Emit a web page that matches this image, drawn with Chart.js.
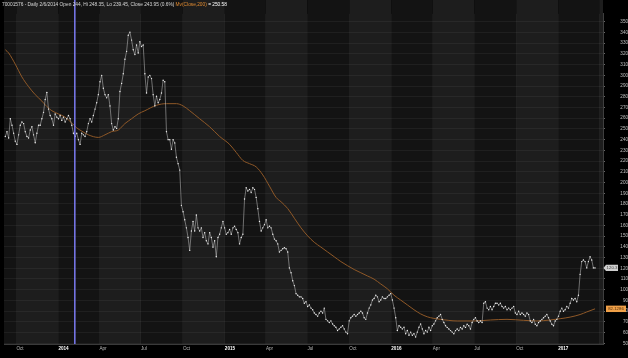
<!DOCTYPE html>
<html>
<head>
<meta charset="utf-8">
<script src="https://cdn.jsdelivr.net/npm/chart.js@4/dist/chart.umd.min.js"></script>
<style>
  html, body { margin: 0; padding: 0; background: #000; }
  #wrap { width: 628px; height: 358px; position: relative; }
</style>
</head>
<body>
<div id="wrap"><canvas id="c" width="628" height="358"></canvas></div>
<script>
// ---- data ----
const originDate = '2013-10-01';           // day 0 of the x axis
const sampleStartDay = -24.4;               // first sample (~2013-09-06)
const sampleStepDays = 3.643;               // spacing of samples in calendar days

const closeValues = [
  243.0,247.5,241.6,259.5,253.5,246.0,238.6,235.6,244.5,253.5,
  256.5,255.0,247.5,243.0,241.6,249.0,252.0,244.5,237.1,246.0,
  253.5,253.5,259.5,265.5,277.5,284.1,268.5,262.5,259.5,253.5,
  264.0,261.0,259.5,262.5,258.0,261.0,256.5,259.5,262.5,259.5,
  253.5,246.0,243.0,246.0,240.0,235.6,246.0,244.5,243.0,247.5,
  255.0,259.5,256.5,262.5,268.5,274.5,282.0,294.0,300.0,288.0,
  282.0,279.0,282.0,271.5,255.0,249.0,252.0,250.5,259.5,285.0,
  292.5,301.5,315.0,322.4,337.4,340.4,332.9,323.9,319.4,328.4,
  320.9,331.4,326.9,328.4,301.5,283.5,298.5,300.0,297.0,282.0,
  271.5,280.5,274.5,277.5,283.5,295.5,294.0,247.5,240.0,240.0,
  231.1,240.0,237.0,223.6,217.6,211.6,178.7,172.7,165.2,157.7,
  148.7,136.7,154.7,163.7,154.7,169.7,157.7,154.7,157.7,148.7,
  153.2,145.7,142.7,153.2,148.7,139.7,145.7,130.7,148.7,151.7,
  157.7,163.7,157.7,151.7,153.2,156.2,151.7,157.7,159.2,156.2,
  153.2,142.7,148.7,151.7,184.6,195.1,192.1,193.6,190.6,195.1,
  193.6,186.1,175.6,163.7,154.7,157.7,160.7,165.2,157.7,159.2,
  157.7,151.7,147.2,145.7,142.7,135.2,136.7,138.2,139.1,138.2,
  135.2,120.3,115.8,108.3,103.8,96.3,94.8,93.3,93.3,91.8,
  87.3,88.8,84.3,85.8,82.8,81.3,78.3,76.8,75.3,78.3,
  79.8,78.3,82.8,72.3,70.9,69.4,70.9,67.9,66.4,64.9,
  61.9,63.4,64.9,66.4,63.4,60.4,58.9,70.9,73.8,75.3,
  76.8,75.3,76.8,78.3,79.8,78.3,73.8,72.3,78.3,82.8,
  85.8,90.3,91.8,94.8,93.3,88.8,90.3,93.3,91.8,91.8,
  93.3,94.8,96.3,90.3,82.8,73.8,61.9,66.4,64.9,63.4,
  64.9,58.9,61.9,57.4,60.4,57.4,58.9,55.9,60.4,64.9,
  67.9,63.4,58.9,61.9,60.4,64.9,61.9,66.4,67.9,70.9,
  73.8,75.3,76.8,72.3,69.3,66.3,64.8,63.3,61.8,60.4,
  58.9,61.8,63.3,61.8,64.8,63.3,66.3,64.8,67.8,66.3,
  63.3,69.3,72.3,73.8,70.8,69.3,70.8,69.3,87.3,88.8,
  82.8,81.3,84.3,81.3,84.3,87.3,87.3,85.8,87.3,84.3,
  82.8,84.3,81.3,82.8,81.3,82.8,84.3,78.3,76.8,79.8,
  76.8,78.3,76.8,75.3,78.3,76.8,70.8,69.3,72.3,67.8,
  66.3,69.3,70.8,72.3,73.8,75.3,76.8,73.8,70.8,67.8,
  66.3,70.8,72.3,75.3,79.8,82.8,79.8,81.3,84.3,82.8,
  87.3,91.8,90.3,91.8,88.8,94.8,114.3,126.2,127.7,126.2,
  120.3,126.2,130.7,127.7,120.3,120.3
];

// 200-day moving average, read at some of the sample positions
const maSampleIndex = [0,2,6,10,14,18,22,25,28,32,36,40,43,46,50,56,60,64,68,72,76,80,84,
  91,97,103,107,111,117,123,129,135,139,143,147,151,155,159,163,166,170,174,178,182,186,
  190,194,198,202,206,210,214,218,222,226,230,234,238,242,246,250,254,258,262,272,282,
  292,302,312,320,328,334,340,346,350,355];
const maValues = [323.9,320.9,310.4,298.5,289.5,282.0,276.0,270.9,267.0,264.0,261.0,255.5,251.0,248.0,244.5,242.1,244.5,247.5,249.0,255.0,259.5,264.0,267.0,
  272.1,273.6,273.6,271.5,267.0,259.5,252.0,243.0,235.6,228.1,220.6,217.6,214.6,207.1,196.6,186.1,182.0,175.7,166.7,157.7,150.2,144.2,
  139.7,135.2,130.7,126.2,122.4,118.8,115.8,112.8,109.8,105.3,100.8,94.8,90.3,85.8,81.3,77.4,74.7,73.2,72.3,70.8,70.8,
  71.7,72.3,71.4,70.8,71.7,72.9,74.4,76.8,79.2,82.13];

const tickDates  = ['2013-10-01','2014-01-01','2014-04-01','2014-07-01','2014-10-01','2015-01-01','2015-04-01',
                    '2015-07-01','2015-10-01','2016-01-01','2016-04-01','2016-07-01','2016-10-01','2017-01-01','2017-04-01'];
const tickLabels = ['Oct','2014','Apr','Jul','Oct','2015','Apr','Jul','Oct','2016','Apr','Jul','Oct','2017',''];
const yTickValues = [50,60,70,80,90,100,110,120,130,140,150,160,170,180,190,200,210,220,230,240,250,260,270,280,290,300,310,320,330,340,350];

const cursorDate = '2014-02-06';
const headerMain = '70001576 - Daily 2/6/2014 Open 244, Hi 248.35, Lo 239.45, Close 243.95 (0.6%) ';
const headerMa = 'Mv(Close,200)';
const headerMaVal = ' = 250.58';
const lastClose = 120.3;
const lastCloseText = '120.3';
const lastMa = 82.1286;
const lastMaText = '82.1286';

// ---- helpers ----
function dayOf(s) {
  const [y,m,d] = s.split('-').map(Number);
  const [oy,om,od] = originDate.split('-').map(Number);
  return (Date.UTC(y,m-1,d) - Date.UTC(oy,om-1,od)) / 86400000;
}
const tickDays = tickDates.map(dayOf);
const xMinDay = -27.3, xMaxDay = 1286.3;

const priceData = closeValues.map((v,i) => ({x: sampleStartDay + i*sampleStepDays, y: v}));
const maData = maSampleIndex.map((k,j) => ({x: sampleStartDay + k*sampleStepDays, y: maValues[j]}));

const FONT = '"Liberation Sans", Arial, sans-serif';

const bandsPlugin = {
  id: 'bands',
  beforeDraw(chart) {
    const {ctx, chartArea: a, scales: {x}} = chart;
    ctx.save();
    ctx.fillStyle = '#000';
    ctx.fillRect(0, 0, chart.width, chart.height);
    const edges = [xMinDay].concat(tickDays.filter(d => d > xMinDay && d < xMaxDay)).concat([xMaxDay]);
    for (let i = 0; i < edges.length - 1; i++) {
      const startD = edges[i];
      let light = false;
      const idx = tickDays.indexOf(startD);
      if (idx >= 0) {
        const m = Number(tickDates[idx].split('-')[1]);
        light = (m === 10 || m === 4);
      }
      const x0 = x.getPixelForValue(startD), x1 = x.getPixelForValue(edges[i+1]);
      ctx.fillStyle = light ? '#1d1d1d' : '#131313';
      ctx.fillRect(x0, 0, x1 - x0, a.bottom);
    }
    ctx.restore();
  },
  afterDraw(chart) {
    const {ctx, chartArea: a, scales: {x, y}} = chart;
    ctx.save();
    // cursor line
    const cx = x.getPixelForValue(dayOf(cursorDate));
    ctx.strokeStyle = '#7b7bf2';
    ctx.lineWidth = 1.5;
    ctx.beginPath(); ctx.moveTo(cx, 0); ctx.lineTo(cx, a.bottom); ctx.stroke();
    // header
    ctx.font = '4.8px ' + FONT;
    ctx.textBaseline = 'middle';
    ctx.textAlign = 'left';
    let tx = 2;
    ctx.fillStyle = '#d8d8d8';
    ctx.fillText(headerMain, tx, 5); tx += ctx.measureText(headerMain).width;
    ctx.fillStyle = '#e08a30';
    ctx.fillText(headerMa, tx, 5); tx += ctx.measureText(headerMa).width;
    ctx.fillStyle = '#ffffff';
    ctx.fillText(headerMaVal, tx, 5);
    // last close box
    const py = y.getPixelForValue(lastClose);
    ctx.fillStyle = '#cfcfcf';
    ctx.beginPath();
    ctx.moveTo(a.right + 0.5, py);
    ctx.lineTo(a.right + 3, py - 3.2);
    ctx.lineTo(a.right + 15, py - 3.2);
    ctx.lineTo(a.right + 15, py + 3.2);
    ctx.lineTo(a.right + 3, py + 3.2);
    ctx.closePath(); ctx.fill();
    ctx.fillStyle = '#404040';
    ctx.font = '4.3px ' + FONT;
    ctx.textAlign = 'center';
    ctx.fillText(lastCloseText, a.right + 9, py + 0.3);
    // last MA box
    const my = y.getPixelForValue(lastMa);
    ctx.fillStyle = '#f0a048';
    ctx.fillRect(a.right + 3, my - 3.2, 20, 6.4);
    ctx.fillStyle = '#4a2a08';
    ctx.fillText(lastMaText, a.right + 13, my + 0.3);
    ctx.restore();
  }
};

new Chart(document.getElementById('c'), {
  type: 'line',
  data: {
    datasets: [
      {
        label: 'Close',
        data: priceData,
        borderColor: 'rgba(200,200,200,0.85)',
        borderWidth: 0.6,
        pointRadius: 0.7,
        pointBackgroundColor: '#f0f0f0',
        pointBorderWidth: 0,
        tension: 0,
        order: 1
      },
      {
        label: 'Mv(Close,200)',
        data: maData,
        borderColor: '#8f5827',
        borderWidth: 1,
        pointRadius: 0,
        cubicInterpolationMode: 'monotone',
        order: 2
      }
    ]
  },
  options: {
    responsive: false,
    animation: false,
    devicePixelRatio: 1,
    layout: { padding: { left: 2, top: 1, right: 0, bottom: 0 } },
    plugins: { legend: { display: false }, tooltip: { enabled: false }, title: { display: false } },
    scales: {
      x: {
        type: 'linear',
        min: xMinDay, max: xMaxDay,
        afterBuildTicks(scale) { scale.ticks = tickDays.map(v => ({value: v})); },
        afterFit(scale) { scale.height = 14; },
        grid: { color: 'rgba(255,255,255,0.045)', drawTicks: false },
        border: { display: true, color: '#3a3a3a' },
        ticks: {
          autoSkip: false, maxRotation: 0, align: 'start', padding: 1.5,
          font: (c) => ({ family: FONT, size: 4.6, weight: /^\d{4}$/.test(c.tick && c.tick.label) ? 'bold' : 'normal' }),
          color: (c) => (/^\d{4}$/.test(c.tick && c.tick.label) ? '#ffffff' : '#b8b8b8'),
          callback(v) { const i = tickDays.indexOf(v); return i >= 0 ? tickLabels[i] : ''; }
        }
      },
      y: {
        position: 'right',
        min: 49.3, max: 357.5,
        afterBuildTicks(scale) { scale.ticks = yTickValues.map(v => ({value: v})); },
        afterFit(scale) { scale.width = 25; },
        grid: { color: 'rgba(255,255,255,0.05)', tickColor: '#666', tickLength: 2 },
        border: { display: true, color: '#3e3e3e' },
        ticks: {
          crossAlign: 'far', padding: 11,
          font: { family: FONT, size: 4.6 },
          color: '#c0c0c0'
        }
      }
    }
  },
  plugins: [bandsPlugin]
});
</script>
</body>
</html>
